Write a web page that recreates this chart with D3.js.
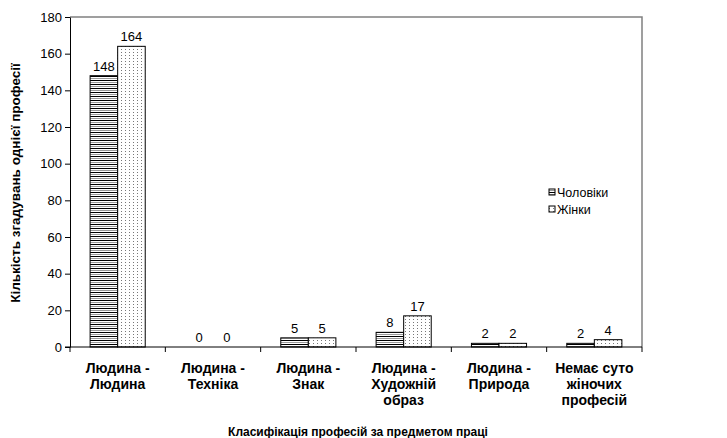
<!DOCTYPE html>
<html><head><meta charset="utf-8">
<script src="https://cdn.jsdelivr.net/npm/d3@7"></script>
<style>body{margin:0;background:#fff}svg{display:block;font-family:"Liberation Sans",Arial,sans-serif}</style>
</head><body>
<svg id="c" width="727" height="438"></svg>
<script>
const categories = [["Людина -","Людина"],["Людина -","Техніка"],["Людина -","Знак"],["Людина -","Художній","образ"],["Людина -","Природа"],["Немає суто","жіночих","професій"]];
const seriesNames = ["Чоловіки","Жінки"];
const men = [148,0,5,8,2,2];
const women = [164,0,5,17,2,4];
const yTicks = [0,20,40,60,80,100,120,140,160,180];

const svg = d3.select("#c");
const L=70,R=642,T=17,B=347;
const defs = svg.append("defs");
const p1 = defs.append("pattern").attr("id","hor").attr("patternUnits","userSpaceOnUse").attr("width",4).attr("height",4);
p1.append("rect").attr("width",4).attr("height",4).attr("fill","#fff");
p1.append("rect").attr("y",0).attr("width",4).attr("height",1).attr("fill","#000");
p1.append("rect").attr("y",2).attr("width",4).attr("height",1).attr("fill","#999");
const p2 = defs.append("pattern").attr("id","dot").attr("patternUnits","userSpaceOnUse").attr("width",4).attr("height",3);
p2.append("rect").attr("width",4).attr("height",3).attr("fill","#fff");
p2.append("rect").attr("x",1).attr("y",1).attr("width",1).attr("height",1).attr("fill","#777");
const fills=["url(#hor)","url(#dot)"];

const x = d3.scaleBand().domain(d3.range(categories.length)).range([L,R]).paddingInner(0).paddingOuter(0);
const x1 = d3.scaleBand().domain([0,1]).range([0,x.bandwidth()]).paddingOuter(0.73).paddingInner(0);
const y = d3.scaleLinear().domain([0,180]).range([B,T]);

svg.append("path").attr("d",`M${L},${T}H${R}V${B}`).attr("fill","none").attr("stroke","#808080").attr("stroke-width",1.5);

const data = [men,women];
data.forEach((vals,si)=>{
  const g = svg.append("g");
  vals.forEach((v,i)=>{
    const bx = x(i)+x1(si);
    if(v>0){
      g.append("rect").attr("x",bx).attr("y",y(v)).attr("width",x1.bandwidth()).attr("height",B-y(v))
        .attr("fill",fills[si]).attr("stroke","#000").attr("stroke-width",1);
    }
    g.append("text").attr("x",bx+x1.bandwidth()/2).attr("y",y(v)-5).attr("text-anchor","middle")
      .attr("font-size",13).text(v);
  });
});

const ya = svg.append("g").attr("transform",`translate(${L},0)`).call(d3.axisLeft(y).tickValues(yTicks).tickSize(5).tickSizeOuter(0));
ya.select(".domain").attr("stroke","#000");
ya.selectAll("text").attr("font-size",13).attr("font-family","Liberation Sans, Arial, sans-serif").attr("fill","#000").attr("x",-8);
svg.append("line").attr("x1",L-5).attr("x2",R).attr("y1",B).attr("y2",B).attr("stroke","#000");
d3.range(categories.length+1).forEach(i=>{
  const xx = i<categories.length? x(i): R;
  svg.append("line").attr("x1",xx).attr("x2",xx).attr("y1",B).attr("y2",B+5).attr("stroke","#000");
});
categories.forEach((lines,i)=>{
  const t = svg.append("text").attr("text-anchor","middle").attr("font-size",14).attr("font-weight","bold")
    .attr("x",x(i)+x.bandwidth()/2).attr("y",373);
  lines.forEach((s,k)=>t.append("tspan").attr("x",x(i)+x.bandwidth()/2).attr("dy",k?16:0).text(s));
});
svg.append("text").attr("x",358).attr("y",436).attr("text-anchor","middle").attr("font-size",12).attr("font-weight","bold")
  .text("Класифікація професій за предметом праці");
svg.append("text").attr("transform","translate(20,183) rotate(-90)").attr("text-anchor","middle").attr("font-size",13.5).attr("font-weight","bold")
  .text("Кількість згадувань однієї професії");

seriesNames.forEach((n,i)=>{
  const ly = 193+i*17;
  svg.append("rect").attr("x",549).attr("y",ly-4).attr("width",6).attr("height",6).attr("fill",fills[i]).attr("stroke","#000");
  svg.append("text").attr("x",557).attr("y",ly+4).attr("font-size",12.5).text(n);
});
</script>
</body></html>
